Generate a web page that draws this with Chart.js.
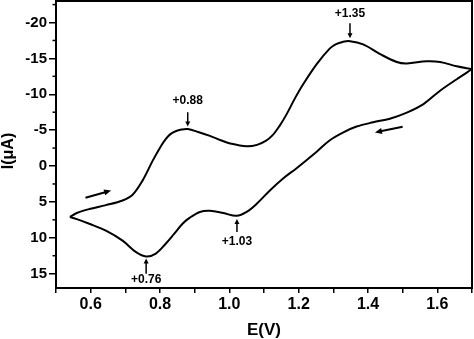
<!DOCTYPE html>
<html><head><meta charset="utf-8">
<script src="https://cdn.jsdelivr.net/npm/chart.js@4/dist/chart.umd.min.js"></script>
<style>html,body{margin:0;padding:0;background:#fff;}#wrap{width:474px;height:339px;position:relative;}</style>
</head><body><div id="wrap"><canvas id="c"></canvas></div>
<script>
// Forward scan (upper branch), E in V, I in µA
const E_forward = [0.540,0.560,0.596,0.644,0.692,0.721,0.750,0.779,0.803,0.817,0.830,0.845,0.862,0.880,0.910,0.944,0.975,1.002,1.050,1.080,1.105,1.125,1.145,1.165,1.190,1.213,1.252,1.290,1.308,1.327,1.348,1.386,1.435,1.483,1.512,1.569,1.608,1.656,1.700];
const I_forward = [7.1,6.55,6.0,5.45,4.8,4.0,2.0,-0.75,-2.8,-3.8,-4.45,-4.85,-5.08,-5.15,-4.75,-4.2,-3.6,-3.15,-2.75,-2.95,-3.5,-4.3,-5.6,-7.2,-9.5,-11.4,-14.2,-16.4,-17.0,-17.3,-17.4,-16.95,-15.6,-14.5,-14.3,-14.6,-14.5,-13.9,-13.5];
// Reverse scan (lower branch)
const E_reverse = [1.700,1.656,1.608,1.559,1.512,1.463,1.415,1.367,1.329,1.290,1.252,1.194,1.156,1.117,1.079,1.050,1.021,0.983,0.944,0.915,0.886,0.865,0.840,0.817,0.788,0.760,0.731,0.692,0.644,0.596,0.560,0.540];
const I_reverse = [-13.5,-12.1,-10.5,-8.6,-7.45,-6.6,-6.1,-5.5,-4.7,-3.6,-2.0,0.3,1.7,3.4,5.27,6.4,6.94,6.56,6.24,6.4,7.2,8.05,9.5,10.8,12.2,12.6,12.0,10.4,9.0,8.05,7.4,7.1];

const xTicks = [0.5,0.6,0.7,0.8,0.9,1.0,1.1,1.2,1.3,1.4,1.5,1.6,1.7];
const xTickLabels = ['', '0.6', '', '0.8', '', '1.0', '', '1.2', '', '1.4', '', '1.6', ''];
const yTicks = [-20,-15,-10,-5,0,5,10,15];
const yTickLabels = ['-20','-15','-10','-5','0','5','10','15'];
const yMinorTicks = [-22.5,-17.5,-12.5,-7.5,-2.5,2.5,7.5,12.5];

const peakLabels = ['+0.88','+1.35','+0.76','+1.03'];
const peakE = [0.880,1.348,0.760,1.022];
const peakTextI = [-9.1,-21.2,15.9,10.6];
const peakArrowFrom = [-7.5,-19.9,15.0,9.2];
const peakArrowTo = [-5.5,-17.8,12.9,7.4];

const scanArrows = [[0.585,4.43,0.659,3.42],[1.500,-5.47,1.420,-4.68]];

const toPts = (E, I) => E.map((e, i) => ({x: e, y: I[i]}));

function arrowHead(ctx, x1, y1, x2, y2, len, half) {
  const a = Math.atan2(y2 - y1, x2 - x1);
  ctx.beginPath();
  ctx.moveTo(x2, y2);
  ctx.lineTo(x2 - len*Math.cos(a) + half*Math.sin(a), y2 - len*Math.sin(a) - half*Math.cos(a));
  ctx.lineTo(x2 - len*Math.cos(a) - half*Math.sin(a), y2 - len*Math.sin(a) + half*Math.cos(a));
  ctx.closePath();
  ctx.fill();
}

const decor = {
  id: 'decor',
  afterDraw(chart) {
    const {ctx, chartArea: ca, scales: {x, y}} = chart;
    ctx.save();
    ctx.strokeStyle = '#000'; ctx.fillStyle = '#000';
    ctx.lineWidth = 2;
    ctx.strokeRect(ca.left, ca.top, ca.right - ca.left, ca.bottom - ca.top);
    ctx.lineWidth = 1.5;
    yMinorTicks.forEach(v => {
      const py = y.getPixelForValue(v);
      ctx.beginPath(); ctx.moveTo(ca.left - 3.5, py); ctx.lineTo(ca.left, py); ctx.stroke();
    });
    ctx.font = 'bold 12px "Liberation Sans", Arial, sans-serif';
    ctx.textAlign = 'center'; ctx.textBaseline = 'middle';
    peakLabels.forEach((t, i) => {
      const px = x.getPixelForValue(peakE[i]);
      ctx.fillText(t, px, y.getPixelForValue(peakTextI[i]));
      const y1 = y.getPixelForValue(peakArrowFrom[i]);
      const y2 = y.getPixelForValue(peakArrowTo[i]);
      ctx.lineWidth = 1.5;
      ctx.beginPath(); ctx.moveTo(px, y1); ctx.lineTo(px, y2 - Math.sign(y2 - y1) * 3); ctx.stroke();
      arrowHead(ctx, px, y1, px, y2, 5, 2.5);
    });
    scanArrows.forEach(a => {
      const x1 = x.getPixelForValue(a[0]), y1 = y.getPixelForValue(a[1]);
      const x2 = x.getPixelForValue(a[2]), y2 = y.getPixelForValue(a[3]);
      ctx.lineWidth = 2;
      ctx.beginPath(); ctx.moveTo(x1, y1); ctx.lineTo(x1 + (x2 - x1) * 0.8, y1 + (y2 - y1) * 0.8); ctx.stroke();
      arrowHead(ctx, x1, y1, x2, y2, 7, 3);
    });
    ctx.font = 'bold 16px "Liberation Sans", Arial, sans-serif';
    ctx.translate(9, 151);
    ctx.rotate(-Math.PI / 2);
    ctx.fillText('I(\u03BCA)', 0, 0);
    ctx.restore();
  }
};

const lineStyle = {borderColor: '#000', borderWidth: 2, pointRadius: 0, showLine: true, tension: 0.35, fill: false};

new Chart(document.getElementById('c'), {
  type: 'scatter',
  data: {datasets: [
    Object.assign({label: 'forward', data: toPts(E_forward, I_forward)}, lineStyle),
    Object.assign({label: 'reverse', data: toPts(E_reverse, I_reverse)}, lineStyle)
  ]},
  options: {
    responsive: true, maintainAspectRatio: false, animation: false,
    layout: {padding: {top: 1, right: 2, left: 0, bottom: 0}},
    plugins: {legend: {display: false}, tooltip: {enabled: false}},
    scales: {
      x: {
        type: 'linear', min: 0.5, max: 1.7,
        afterBuildTicks: s => { s.ticks = xTicks.map(v => ({value: v})); },
        afterFit: s => { s.height = 51; s.paddingLeft = 0; s.paddingRight = 0; },
        border: {display: false},
        grid: {drawOnChartArea: false, drawTicks: true, tickLength: 5, color: '#000', lineWidth: 1.5},
        ticks: {color: '#000', padding: 2, maxRotation: 0, autoSkip: false,
          font: {family: '"Liberation Sans", Arial, sans-serif', size: 16, weight: 'bold'},
          callback: (v, i) => xTickLabels[i]},
        title: {display: true, text: 'E(V)', color: '#000', padding: 0,
          font: {family: '"Liberation Sans", Arial, sans-serif', size: 17, weight: 'bold', lineHeight: 1}}
      },
      y: {
        type: 'linear', min: -23, max: 17, reverse: true,
        afterBuildTicks: s => { s.ticks = yTicks.map(v => ({value: v})); },
        afterFit: s => { s.width = 56; s.paddingTop = 0; s.paddingBottom = 0; },
        border: {display: false},
        grid: {drawOnChartArea: false, drawTicks: true, tickLength: 7, color: '#000', lineWidth: 1.5},
        ticks: {color: '#000', padding: 2, autoSkip: false,
          font: {family: '"Liberation Sans", Arial, sans-serif', size: 15, weight: 'bold'},
          callback: (v, i) => yTickLabels[i]}
      }
    }
  },
  plugins: [decor]
});
</script>
</body></html>
